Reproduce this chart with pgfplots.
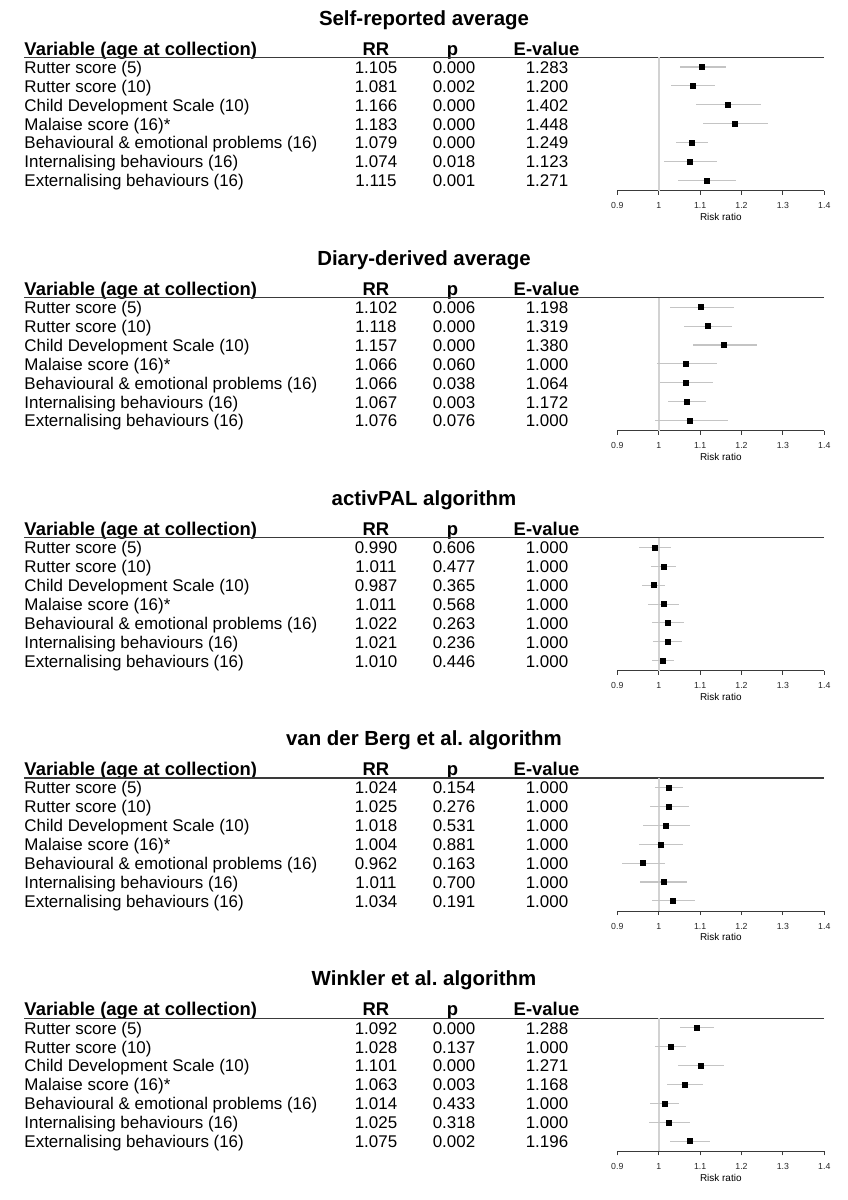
\documentclass[border=0pt]{standalone}
\usepackage{pgfplots}
\pgfplotsset{compat=1.18}
\usepackage{pgfplotstable}
\usepackage{fontspec}
\setmainfont{Liberation Sans}
\frenchspacing
\definecolor{cigray}{HTML}{C4C4C4}
\definecolor{refgray}{HTML}{D2D2D2}
\definecolor{axgray}{HTML}{3A3A3A}

% row, RR, lower and upper 95% CI
\pgfplotstableread{
row rr lo hi
1 1.105 1.051 1.162
2 1.081 1.0286 1.136
3 1.166 1.0897 1.248
4 1.183 1.106 1.265
5 1.079 1.0414 1.118
6 1.074 1.0121 1.140
7 1.115 1.0476 1.187
}\tabA
\pgfplotstableread{
row rr lo hi
1 1.102 1.028 1.181
2 1.118 1.062 1.177
3 1.157 1.082 1.237
4 1.066 0.997 1.140
5 1.066 1.0036 1.132
6 1.067 1.022 1.114
7 1.076 0.992 1.167
}\tabB
\pgfplotstableread{
row rr lo hi
1 0.990 0.9535 1.0285
2 1.011 0.981 1.042
3 0.987 0.9595 1.015
4 1.011 0.974 1.050
5 1.022 0.984 1.062
6 1.021 0.9865 1.057
7 1.010 0.9845 1.036
}\tabC
\pgfplotstableread{
row rr lo hi
1 1.024 0.991 1.058
2 1.025 0.980 1.072
3 1.018 0.963 1.076
4 1.004 0.953 1.058
5 0.962 0.911 1.016
6 1.011 0.956 1.069
7 1.034 0.9835 1.087
}\tabD
\pgfplotstableread{
row rr lo hi
1 1.092 1.0526 1.133
2 1.028 0.991 1.066
3 1.101 1.0476 1.157
4 1.063 1.021 1.107
5 1.014 0.979 1.050
6 1.025 0.9765 1.076
7 1.075 1.0276 1.125
}\tabE

\def\varnames{Rutter score (5),Rutter score (10),Child Development Scale (10),Malaise score (16)*,Behavioural \& emotional problems (16),Internalising behaviours (16),Externalising behaviours (16)}

\newcommand{\bodyfont}{\fontsize{17}{20}\selectfont}
\newcommand{\headfont}{\fontsize{18.5}{22}\selectfont\bfseries}
\newcommand{\titlefont}{\fontsize{20.5}{24}\selectfont\bfseries}

\newcommand{\panel}[4]{%
  \pgfmathsetmacro{\off}{#1*240.2}%
  \begin{scope}[x=1bp,y=-1bp]
    \node[anchor=base, font=\titlefont, inner sep=0] at (424,{25+\off}) {#2};
    \node[anchor=base west, font=\headfont, inner sep=0] at (24.3,{55+\off}) {Variable (age at collection)};
    \node[anchor=base, font=\headfont, inner sep=0] at (376,{55+\off}) {RR};
    \node[anchor=base, font=\headfont, inner sep=0] at (452.5,{55+\off}) {p};
    \node[anchor=base, font=\headfont, inner sep=0] at (546.5,{55+\off}) {E-value};
    \draw[axgray, line width=1.2bp] (24.3,{57.3+\off}) -- (824.3,{57.3+\off});
    \foreach \vname [count=\i] in \varnames {
      \node[anchor=base west, font=\bodyfont, inner sep=0] at (24.3,{73.3+18.9*(\i-1)+\off}) {\vname};
    }
    \foreach \vrr/\vp/\ve [count=\i] in {#4} {
      \node[anchor=base, font=\bodyfont, inner sep=0] at (376,{73.3+18.9*(\i-1)+\off}) {\vrr};
      \node[anchor=base, font=\bodyfont, inner sep=0] at (454,{73.3+18.9*(\i-1)+\off}) {\vp};
      \node[anchor=base, font=\bodyfont, inner sep=0] at (547,{73.3+18.9*(\i-1)+\off}) {\ve};
    }
  \end{scope}
  \pgfmathsetmacro{\axy}{-(190.5+\off)}%
  \begin{axis}[
    at={(617.3bp,\axy bp)}, anchor=south west,
    scale only axis, width=207bp, height=133.2bp,
    xmin=0.9, xmax=1.4, ymin=0.487, ymax=7.54, y dir=reverse,
    axis x line=bottom, axis y line=none,
    x axis line style={-, draw=axgray, line width=1.1bp},
    tick align=outside, major tick length=4bp,
    tick style={draw=axgray, line width=1bp},
    xtick={0.9,1,1.1,1.2,1.3,1.4},
    xticklabels={0.9,1,1.1,1.2,1.3,1.4},
    xticklabel style={font=\fontsize{8.8}{9}\selectfont, text=black!85, anchor=center, yshift=-11bp},
    ytick=\empty,
    xlabel={Risk ratio},
    xlabel style={font=\fontsize{10}{11}\selectfont, at={(axis description cs:0.5,0)}, anchor=center, yshift=-26.2bp},
  ]
    \addplot[refgray, line width=1.6bp, forget plot] coordinates {(1,0.487) (1,7.54)};
    \addplot[only marks, mark=none, forget plot,
      error bars/.cd, x dir=both, x explicit,
      error bar style={draw=cigray, line width=1.1bp}, error mark=none]
      table[x=rr, y=row, x error plus expr=\thisrow{hi}-\thisrow{rr}, x error minus expr=\thisrow{rr}-\thisrow{lo}] {#3};
    \addplot[only marks, mark=square*, mark size=2.5bp, black] table[x=rr, y=row] {#3};
  \end{axis}
}

\begin{document}
\begin{tikzpicture}
\path[use as bounding box] (0,0) rectangle (848bp,-1200bp);
\panel{0}{Self-reported average}{\tabA}{1.105/0.000/1.283,1.081/0.002/1.200,1.166/0.000/1.402,1.183/0.000/1.448,1.079/0.000/1.249,1.074/0.018/1.123,1.115/0.001/1.271}
\panel{1}{Diary-derived average}{\tabB}{1.102/0.006/1.198,1.118/0.000/1.319,1.157/0.000/1.380,1.066/0.060/1.000,1.066/0.038/1.064,1.067/0.003/1.172,1.076/0.076/1.000}
\panel{2}{activPAL algorithm}{\tabC}{0.990/0.606/1.000,1.011/0.477/1.000,0.987/0.365/1.000,1.011/0.568/1.000,1.022/0.263/1.000,1.021/0.236/1.000,1.010/0.446/1.000}
\panel{3}{van der Berg et al. algorithm}{\tabD}{1.024/0.154/1.000,1.025/0.276/1.000,1.018/0.531/1.000,1.004/0.881/1.000,0.962/0.163/1.000,1.011/0.700/1.000,1.034/0.191/1.000}
\panel{4}{Winkler et al. algorithm}{\tabE}{1.092/0.000/1.288,1.028/0.137/1.000,1.101/0.000/1.271,1.063/0.003/1.168,1.014/0.433/1.000,1.025/0.318/1.000,1.075/0.002/1.196}
\end{tikzpicture}
\end{document}
